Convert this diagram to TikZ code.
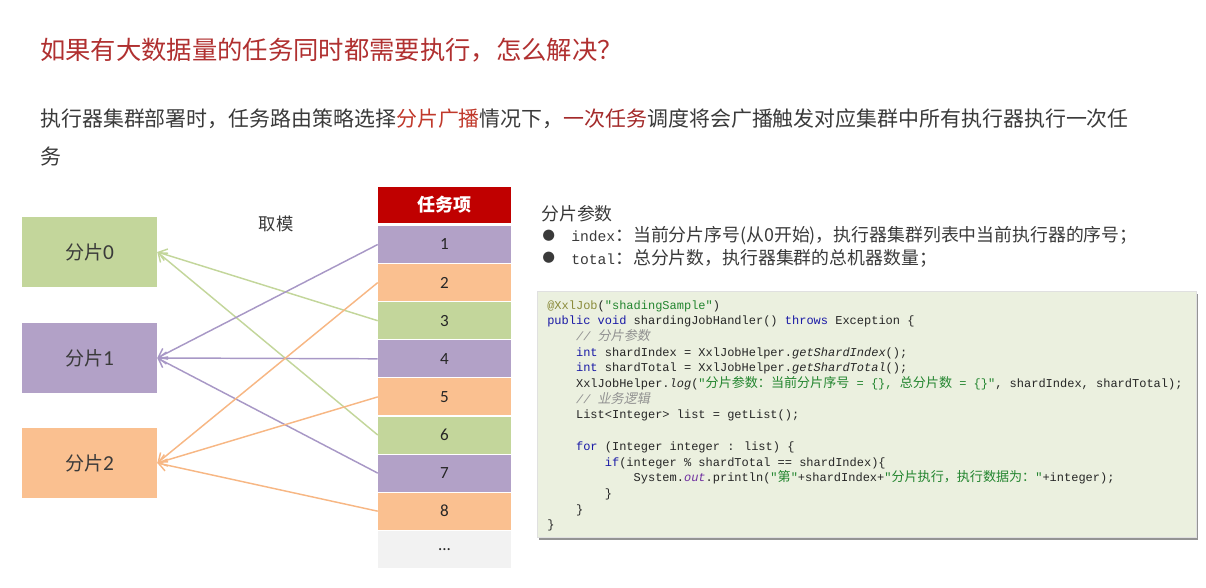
\documentclass[tikz,border=0pt]{standalone}
\usepackage{fontspec}
\setmainfont{Noto Sans CJK SC}
\newfontfamily\cjkf{Noto Sans CJK SC}
\newfontfamily\calib{Carlito}
\newfontfamily\code{Liberation Mono}
\newfontfamily\cjkslant[FakeSlant=0.2]{Noto Sans CJK SC}
\newfontfamily\symb{DejaVu Sans}
\usepackage{tikz}
\usetikzlibrary{arrows.meta,shadows}

\definecolor{titlered}{HTML}{B03030}
\definecolor{hlred}{HTML}{C0392B}
\definecolor{hldark}{HTML}{A32A2A}
\definecolor{bodygray}{HTML}{3A3A3A}
\definecolor{shgreen}{HTML}{C3D69B}
\definecolor{shpurple}{HTML}{B2A1C7}
\definecolor{shorange}{HTML}{FAC090}
\definecolor{arrorange}{HTML}{F7B784}
\definecolor{arrpurple}{HTML}{A898C6}
\definecolor{headred}{HTML}{C00000}
\definecolor{dotsgray}{HTML}{F2F2F2}
\definecolor{codebg}{HTML}{EBF0DF}
\definecolor{kwblue}{HTML}{1A1AA6}
\definecolor{strgreen}{HTML}{23852F}
\definecolor{anncol}{HTML}{8A8A3A}
\definecolor{cmtgray}{HTML}{909090}
\definecolor{outcol}{HTML}{7030A0}

\newcommand{\kw}[1]{\textcolor{kwblue}{#1}}
\newcommand{\strg}[1]{\textcolor{strgreen}{#1}}
\newcommand{\cmt}[1]{\textcolor{cmtgray}{\itshape #1}}
\newcommand{\cj}[1]{{\cjkf\fontsize{9.8}{12}\selectfont #1}}
\newcommand{\cjs}[1]{{\cjkslant\fontsize{9.8}{12}\selectfont #1}}

\begin{document}
\begin{tikzpicture}[x=0.75pt,y=-0.75pt,
    title/.style={anchor=west,inner sep=0,text=titlered,font=\fontsize{19}{23}\selectfont},
    body/.style={anchor=west,inner sep=0,text=bodygray,font=\fontsize{15.7}{19}\selectfont},
    shard/.style={inner sep=0,minimum width=101.25pt,minimum height=52.5pt,text=bodygray,font=\fontsize{14.3}{17}\selectfont},
    task/.style={inner sep=0,minimum width=99.75pt,minimum height=27.75pt,text=black!85,font=\calib\fontsize{12.8}{15}\selectfont},
    param/.style={anchor=west,inner sep=0,text=bodygray,font=\fontsize{13.4}{16}\selectfont},
    codeline/.style={anchor=base west,inner sep=0,text=black!85,font=\code\fontsize{9}{11}\selectfont},
    arr/.style={-{Straight Barb[length=6pt,width=9pt]},line width=1.1pt}]
\useasboundingbox (0,0) rectangle (1206,588);

\node[title] (ttl) at (40,50) {如果有大数据量的任务同时都需要执行，怎么解决？};
\node[body] (line1) at (40,119) {执行器集群部署时，任务路由策略选择\textcolor{hlred}{分片广播}情况下，\textcolor{hldark}{一次任务}调度将会广播触发对应集群中所有执行器执行一次任};
\node[body] (line2) at (40,157) {务};

\node[shard,fill=shgreen] (s0) at (89.5,252) {分片{\calib\fontsize{16}{19}\selectfont 0}};
\node[shard,fill=shpurple] (s1) at (89.5,358) {分片{\calib\fontsize{16}{19}\selectfont 1}};
\node[shard,fill=shorange] (s2) at (89.5,463) {分片{\calib\fontsize{16}{19}\selectfont 2}};
\node[text=bodygray,font=\fontsize{13}{16}\selectfont] (mod) at (276,224) {取模};

\node[task,fill=headred,minimum height=27pt,text=white,font=\bfseries\fontsize{13.5}{16}\selectfont] (head) at (444.5,205) {任务项};
\node[task,fill=shpurple] (t1) at (444.5,244.5) {1};
\node[task,fill=shorange] (t2) at (444.5,282.6) {2};
\node[task,fill=shgreen] (t3) at (444.5,320.7) {3};
\node[task,fill=shpurple] (t4) at (444.5,358.8) {4};
\node[task,fill=shorange] (t5) at (444.5,396.9) {5};
\node[task,fill=shgreen] (t6) at (444.5,435) {6};
\node[task,fill=shpurple] (t7) at (444.5,473.1) {7};
\node[task,fill=shorange] (t8) at (444.5,511.2) {8};
\node[task,fill=dotsgray] (t9) at (444.5,549.3) {...};

\draw[arr,shgreen] (t3.west) to (s0.east);
\draw[arr,shgreen] (t6.west) to (s0.east);
\draw[arr,arrpurple] (t1.west) to (s1.east);
\draw[arr,arrpurple] (t4.west) to (s1.east);
\draw[arr,arrpurple] (t7.west) to (s1.east);
\draw[arr,arrorange] (t2.west) to (s2.east);
\draw[arr,arrorange] (t5.west) to (s2.east);
\draw[arr,arrorange] (t8.west) to (s2.east);

\node[param] (ptitle) at (541,214) {分片参数};
\node[param,font=\symb\fontsize{11}{13}\selectfont] (b1) at (542,236) {●};
\node[param] (p1) at (571,236) {{\code\fontsize{11}{13}\selectfont index}：当前分片序号(从0开始)，执行器集群列表中当前执行器的序号；};
\node[param,font=\symb\fontsize{11}{13}\selectfont] (b2) at (542,258) {●};
\node[param] (p2) at (571,258) {{\code\fontsize{11}{13}\selectfont total}：总分片数，执行器集群的总机器数量；};

\node[fill=codebg,draw=black!12,line width=0.4pt,minimum width=494.25pt,minimum height=184.5pt,inner sep=0,
  drop shadow={shadow xshift=1.5pt,shadow yshift=-2.2pt,fill=black!60,opacity=0.7}] (code) at (866.5,414) {};
\node[codeline] (c0) at (547,309) {\textcolor{anncol}{@XxlJob}(\strg{"shadingSample"})};
\node[codeline] (c1) at (547,324.7) {\kw{public} \kw{void} shardingJobHandler() \kw{throws} Exception \{};
\node[codeline] (c2) at (575.8,340.4) {\cmt{// \cjs{分片参数}}};
\node[codeline] (c3) at (575.8,356.1) {\kw{int} shardIndex = XxlJobHelper.\textit{getShardIndex}();};
\node[codeline] (c4) at (575.8,371.8) {\kw{int} shardTotal = XxlJobHelper.\textit{getShardTotal}();};
\node[codeline] (c5) at (575.8,387.5) {XxlJobHelper.\textit{log}(\strg{"\cj{分片参数：当前分片序号} = \{\}, \cj{总分片数} = \{\}"}, shardIndex, shardTotal);};
\node[codeline] (c6) at (575.8,403.2) {\cmt{// \cjs{业务逻辑}}};
\node[codeline] (c7) at (575.8,418.9) {List<Integer> list = getList();};
\node[codeline] (c9) at (575.8,450.3) {\kw{for} (Integer integer : list) \{};
\node[codeline] (c10) at (604.6,466) {\kw{if}(integer \% shardTotal == shardIndex)\{};
\node[codeline] (c11) at (633.4,481.7) {System.\textcolor{outcol}{\textit{out}}.println(\strg{"\cj{第}"}+shardIndex+\strg{"\cj{分片执行，执行数据为：}"}+integer);};
\node[codeline] (c12) at (604.6,497.4) {\}};
\node[codeline] (c13) at (575.8,513.1) {\}};
\node[codeline] (c14) at (547,528.8) {\}};
\end{tikzpicture}
\end{document}
